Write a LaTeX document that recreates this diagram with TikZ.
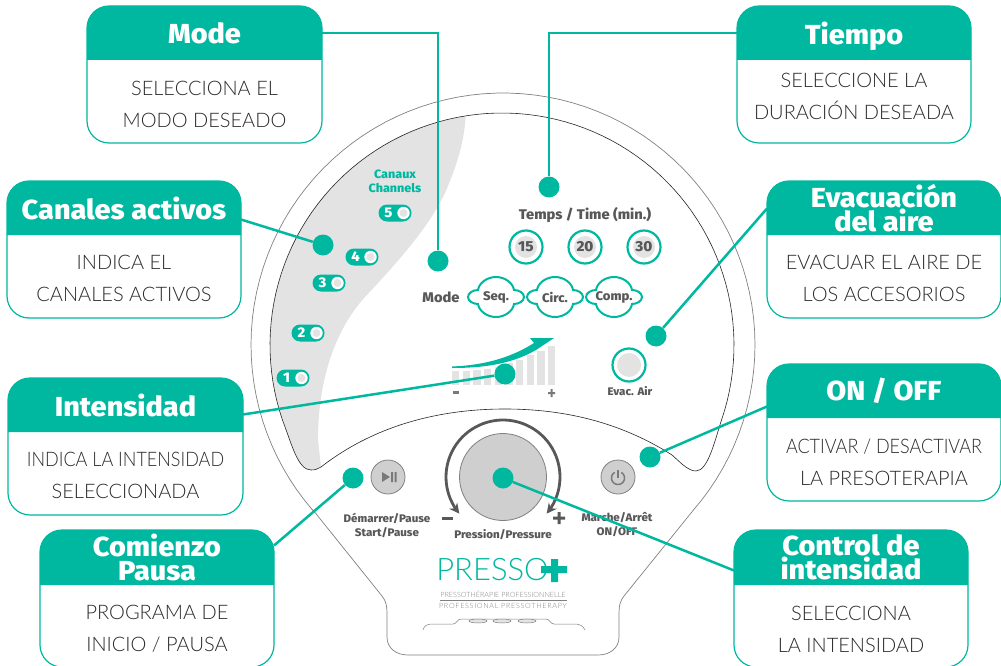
\documentclass[tikz,border=0pt]{standalone}
\usepackage{fontspec}
\setmainfont{Fira Sans}
\newfontfamily\bodyfont{Lato Light}
\newfontfamily\headfont[FakeStretch=1.05]{Fira Sans ExtraBold}
\usetikzlibrary{arrows.meta}
\definecolor{pressoteal}{HTML}{00B8A0}
\definecolor{panelgray}{HTML}{E3E3E3}
\definecolor{knobgray}{HTML}{CFCFCF}
\definecolor{labelgray}{HTML}{58585A}
\definecolor{bodyink}{HTML}{2A2A2C}
\tikzset{
  cardbody/.style={draw=pressoteal,line width=1.2,fill=white,rounded corners=22,inner sep=0,outer sep=0},
  cardtitle/.style={text=white,align=center,font=\headfont\fontsize{27.5}{24}\selectfont},
  cardtext/.style={text=bodyink,align=center,font=\bodyfont\fontsize{20}{32}\selectfont},
  link/.style={draw=pressoteal,line width=2.5},
  target/.style={circle,fill=pressoteal,minimum size=21,inner sep=0},
  panellabel/.style={text=labelgray,align=center,font=\headfont\fontsize{11}{14}\selectfont},
  numring/.style={circle,draw=pressoteal,line width=2.2,fill=white,minimum size=33,inner sep=0},
  softbutton/.style={circle,draw=gray,line width=0.8,fill=knobgray,inner sep=0},
  pilltag/.style={rounded corners=8.5,fill=pressoteal}
}
% x1,y1,x2,y header ends,y of text,title,text
\newcommand{\card}[8]{
  \node[cardbody,minimum width={#4-#2},minimum height=137] (#1) at ({(#2+#4)/2},{#3+68.5}) {};
  \fill[pressoteal] (#2,#5) [rounded corners=22] -- (#2,#3) -- (#4,#3) [sharp corners] -- (#4,#5) -- cycle;
  \node[cardtitle] (#1title) at ({(#2+#4)/2},{(#3+#5)/2}) {#7};
  \node[cardtext] (#1text) at ({(#2+#4)/2},#6) {#8};
}
% name,x,y,number
\newcommand{\pill}[4]{
  \fill[pilltag] (#2-16.5,#3-8.5) rectangle (#2+16.5,#3+8.5);
  \node[text=white,font=\headfont\fontsize{14}{14}\selectfont] (#1) at (#2-6.5,#3) {#4};
  \fill[white] (#2+8.5,#3) circle (6.2);
  \fill[panelgray] (#2+8.5,#3) circle (4);
}
% name,x,y,label
\newcommand{\cloudbutton}[4]{
  \draw[pressoteal,line width=2,fill=white,shift={(#2,#3)}]
    (-28,0) .. controls (-28,-4) and (-23,-7) .. (-18,-7)
    .. controls (-17,-14) and (-9,-20) .. (0,-20)
    .. controls (9,-20) and (17,-14) .. (18,-7)
    .. controls (23,-7) and (28,-4) .. (28,0)
    .. controls (28,4) and (23,7) .. (18,7)
    .. controls (17,14) and (9,20) .. (0,20)
    .. controls (-9,20) and (-17,14) .. (-18,7)
    .. controls (-23,7) and (-28,4) .. (-28,0) -- cycle;
  \node[panellabel,font=\headfont\fontsize{12.5}{14}\selectfont] (#1) at (#2,#3) {#4};
}
\begin{document}
\begin{tikzpicture}[x=1pt,y=-1pt]
  \useasboundingbox (0,0) rectangle (1001,666);
  % device outline
  \draw[gray,line width=0.7] (387,613) .. controls (387,606) and (386,601) .. (382,596) -- (313,510)
    -- plot[domain=221:-41,samples=90] ({503+252*cos(\x)},{345-252*sin(\x)})
    -- (624,596) .. controls (620,601) and (619,606) .. (619,613) -- (619,637)
    .. controls (619,648) and (610,655) .. (598,655) -- (408,655)
    .. controls (396,655) and (387,648) .. (387,637) -- cycle;
  % gray part of the panel
  \fill[panelgray] (321,467) .. controls (318,469) and (315,470) .. (311,470)
    .. controls (298,470) and (292,445) .. (282.5,420)
    -- plot[domain=198.9:99,samples=60] ({502+232*cos(\x)},{345-232*sin(\x)})
    .. controls (464,145) and (455,170) .. (445,193)
    .. controls (430,225) and (400,260) .. (365,297)
    .. controls (335,330) and (318,380) .. (318,440) -- cycle;
  % panel line
  \draw[black!85,line width=0.6] (321,467) .. controls (375,425) and (440,409) .. (505,409)
    .. controls (570,409) and (625,425) .. (672,455)
    .. controls (680,462) and (688,471) .. (696,471)
    .. controls (708,471) and (715,440) .. (721.5,420)
    -- plot[domain=-18.9:198.9,samples=90] ({502+232*cos(\x)},{345-232*sin(\x)})
    .. controls (292,445) and (298,470) .. (311,470)
    .. controls (315,470) and (318,469) .. (321,467);
  % channels
  \node[text=pressoteal,align=center,font=\headfont\fontsize{12}{14}\selectfont] (channels) at (395,181) {Canaux\\Channels};
  \pill{five}{395}{213}{5}
  \pill{four}{362}{257}{4}
  \pill{three}{329}{283}{3}
  \pill{two}{308}{333}{2}
  \pill{one}{293}{378}{1}
  % time
  \node[panellabel,font=\headfont\fontsize{14}{14}\selectfont] (timelabel) at (585,215) {Temps / Time (min.)};
  \foreach \tx/\tname in {526/15,585/20,644/30}{
    \node[numring] (ring\tname) at (\tx,247) {};
    \fill[panelgray] (\tx,247) circle (11);
    \node[text=labelgray,font=\headfont\fontsize{14.5}{14}\selectfont] (num\tname) at (\tx,247) {\tname};
  }
  % mode
  \node[panellabel,font=\headfont\fontsize{14}{14}\selectfont] (modelabel) at (441,297) {Mode};
  \cloudbutton{seq}{496}{297}{Seq.}
  \cloudbutton{circ}{555}{297}{Circ.}
  \cloudbutton{comp}{614}{297}{Comp.}
  % intensity bars
  \foreach \bi/\btop in {0/371,1/370.5,2/370,3/368.5,4/366.5,5/363,6/360,7/355,8/350.5,9/346}{
    \fill[panelgray] ({452+10.67*\bi},\btop) rectangle ({459.3+10.67*\bi},385);
  }
  \fill[pressoteal] (452,366.5) .. controls (490,365) and (515,355) .. (534,343) -- (530,338) -- (554,338)
    -- (536,350) .. controls (515,362) and (490,368) .. (452,368) -- cycle;
  \fill[labelgray!80] (453,391) rectangle (459,393.5);
  \fill[labelgray!80] (548,392) rectangle (555,394) (550.5,389) rectangle (552.5,397);
  % evacuation
  \node[numring] (evac) at (629,365) {};
  \fill[panelgray] (629,365) circle (12);
  \node[panellabel] (evaclabel) at (630,391) {Evac. Air};
  % knob
  \draw[labelgray,line width=2.8,{Stealth[length=10,width=10]}-{Stealth[length=10,width=10]}]
    plot[domain=220:-40,samples=60] ({503+57*cos(\x)},{477-57*sin(\x)});
  \node[softbutton,minimum size=87] (knob) at (503,477) {};
  \node[softbutton,minimum size=34] (playbtn) at (388,477) {};
  \fill[labelgray!80] (382,472) -- (390,477) -- (382,482) -- cycle;
  \fill[labelgray!80] (391,472) rectangle (393,482) (394.5,472) rectangle (396.5,482);
  \node[softbutton,minimum size=34] (powerbtn) at (618,477) {};
  \draw[labelgray!80,line width=1.5] plot[domain=60:-240,samples=30] ({618+6.5*cos(\x)},{478-6.5*sin(\x)});
  \draw[labelgray!80,line width=1.5] (618,470) -- (618,478);
  \node[panellabel] (startlabel) at (387,525) {Démarrer/Pause\\Start/Pause};
  \node[panellabel] (onlabel) at (617,525) {Marche/Arrêt\\ON/OFF};
  \node[panellabel] (pressurelabel) at (503,535) {Pression/Pressure};
  \fill[labelgray] (442,516.5) rectangle (453,519.5);
  \fill[labelgray] (553,516.5) rectangle (565,519.5) (557.5,512) rectangle (560.5,524);
  % logo
  \node[text=pressoteal,font=\bodyfont\fontsize{31}{31}\selectfont,inner sep=0] (logo) at (492.5,570) {PRESSO};
  \fill[pressoteal] (541,566) rectangle (567,573) (551,559) rectangle (558,582);
  \node[text=gray,font=\bodyfont\fontsize{7.2}{8}\selectfont] (logofr) at (503,594) {PRESSOTHÉRAPIE PROFESSIONNELLE};
  \draw[gray,line width=0.8] (440,600) -- (567,600);
  \node[text=gray,font=\bodyfont\fontsize{7.2}{8}\addfontfeature{LetterSpace=10}\selectfont] (logoen) at (503,606) {PROFESSIONAL PRESSOTHERAPY};
  % feet
  \draw[gray,line width=0.5] (423,630) .. controls (424,626) and (427,624) .. (432,624) -- (453,624)
    .. controls (457,624) and (457,619) .. (461,619) -- (546,619)
    .. controls (550,619) and (550,624) .. (554,624) -- (575,624)
    .. controls (580,624) and (583,626) .. (585,630);
  \foreach \fx in {478,502,527}{
    \draw[gray,line width=0.5,fill=panelgray] (\fx,621) ellipse (9 and 2);
  }
  % targets
  \node[target] (modedot) at (438,261) {};
  \node[target] (tiempodot) at (549,187) {};
  \node[target] (canalesdot) at (323,245) {};
  \node[target] (evacdot) at (656,336) {};
  \node[target] (intensidaddot) at (505,374) {};
  \node[target] (ondot) at (650,457) {};
  \node[target] (comienzodot) at (353,478) {};
  \node[target] (controldot) at (503,478) {};
  % cards
  \card{mode}{87}{6}{322}{60}{104}{Mode}{SELECCIONA EL\\MODO DESEADO}
  \card{tiempo}{737}{6}{971}{60}{96}{\raisebox{0pt}[\height][0pt]{Tiempo}}{SELECCIONE LA\\DURACIÓN DESEADA}
  \card{canales}{7}{181}{241}{235}{278}{Canales activos}{INDICA EL\\CANALES ACTIVOS}
  \card{evacuacion}{767}{181}{1001}{235}{278}{Evacuación\\del aire}{EVACUAR EL AIRE DE\\LOS ACCESORIOS}
  \card{intensidad}{8}{378}{243}{432}{475}{Intensidad}{\scalebox{0.9}[1]{INDICA LA INTENSIDAD}\\SELECCIONADA}
  \card{onoff}{767}{364}{1001}{418}{462}{ON / OFF}{\scalebox{0.9}[1]{ACTIVAR / DESACTIVAR}\\LA PRESOTERAPIA}
  \card{comienzo}{40}{530}{274}{585}{629}{Comienzo\\Pausa}{PROGRAMA DE\\INICIO / PAUSA}
  \card{control}{734}{530}{968}{585}{629}{Control de\\intensidad}{SELECCIONA\\LA INTENSIDAD}
  % connectors
  \draw[link] (mode.east |- modetitle) -| (modedot);
  \draw[link] (tiempo.west |- tiempotitle) -| (tiempodot);
  \draw[link] ([yshift=30]canales.east) -- (canalesdot);
  \draw[link] ([yshift=41]evacuacion.west) -- (evacdot);
  \draw[link] ([yshift=32]intensidad.east) -- (intensidaddot);
  \draw[link] ([yshift=26]onoff.west) -- (ondot);
  \draw[link] ([yshift=53]comienzo.east) -- (comienzodot);
  \draw[link] ([yshift=28]control.west) -- (controldot);
\end{tikzpicture}
\end{document}
